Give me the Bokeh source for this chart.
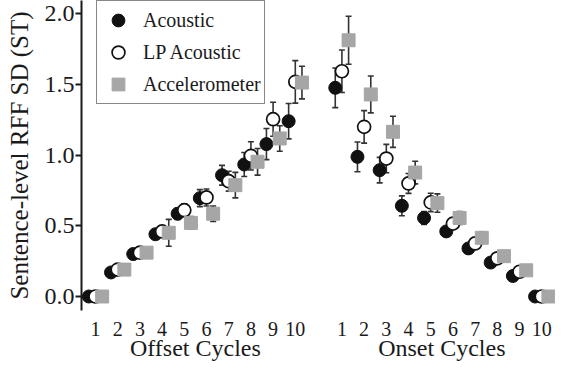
from bokeh.plotting import figure
from bokeh.models import (LinearAxis, FixedTicker, Whisker, ColumnDataSource, Legend,
                          LegendItem, TeeHead, Range1d, NumeralTickFormatter)
from bokeh.embed import file_html
from bokeh.resources import INLINE

# ---- data ----
cycles = [1, 2, 3, 4, 5, 6, 7, 8, 9, 10]
cycle_labels = ["1", "2", "3", "4", "5", "6", "7", "8", "9", "10"]
group_labels = ["Offset Cycles", "Onset Cycles"]
series_names = ["Acoustic", "LP Acoustic", "Accelerometer"]

offset_acoustic = [0.00, 0.17, 0.30, 0.44, 0.585, 0.695, 0.857, 0.933, 1.077, 1.239]
offset_acoustic_err = [0.01, 0.02, 0.02, 0.03, 0.04, 0.06, 0.07, 0.085, 0.11, 0.125]
offset_lp = [0.00, 0.19, 0.31, 0.46, 0.61, 0.70, 0.815, 0.994, 1.253, 1.517]
offset_lp_err = [0.01, 0.02, 0.03, 0.04, 0.045, 0.06, 0.07, 0.10, 0.12, 0.15]
offset_acc = [0.00, 0.19, 0.31, 0.45, 0.52, 0.585, 0.787, 0.952, 1.117, 1.512]
offset_acc_err = [0.01, 0.02, 0.02, 0.095, 0.045, 0.055, 0.09, 0.094, 0.09, 0.115]

onset_acoustic = [1.475, 0.987, 0.893, 0.641, 0.555, 0.46, 0.34, 0.24, 0.145, 0.00]
onset_acoustic_err = [0.14, 0.105, 0.09, 0.07, 0.045, 0.03, 0.02, 0.02, 0.02, 0.01]
onset_lp = [1.592, 1.199, 0.975, 0.799, 0.665, 0.515, 0.375, 0.27, 0.175, 0.00]
onset_lp_err = [0.15, 0.115, 0.10, 0.07, 0.065, 0.04, 0.03, 0.02, 0.02, 0.01]
onset_acc = [1.811, 1.428, 1.164, 0.876, 0.66, 0.555, 0.415, 0.285, 0.185, 0.00]
onset_acc_err = [0.17, 0.13, 0.11, 0.08, 0.065, 0.045, 0.04, 0.02, 0.02, 0.01]

y_ticks = [0.0, 0.5, 1.0, 1.5, 2.0]

# ---- layout helpers ----
ONSET_SHIFT = 11.1
DODGE = {"Acoustic": -0.3, "LP Acoustic": 0.0, "Accelerometer": 0.3}

base_x = [c for c in cycles] + [c + ONSET_SHIFT for c in cycles]


def make_source(name, off_v, off_e, on_v, on_e):
    ys = off_v + on_v
    es = off_e + on_e
    xs = [b + DODGE[name] for b in base_x]
    return ColumnDataSource(dict(x=xs, y=ys,
                                 upper=[y + e for y, e in zip(ys, es)],
                                 lower=[y - e for y, e in zip(ys, es)]))


src_ac = make_source("Acoustic", offset_acoustic, offset_acoustic_err, onset_acoustic, onset_acoustic_err)
src_lp = make_source("LP Acoustic", offset_lp, offset_lp_err, onset_lp, onset_lp_err)
src_acc = make_source("Accelerometer", offset_acc, offset_acc_err, onset_acc, onset_acc_err)

FONT = "Liberation Serif"
INK = "#1a1a1a"

p = figure(width=555, height=363, output_backend="svg", toolbar_location=None,
           x_range=Range1d(0.37, 21.72), y_range=Range1d(-0.099, 2.092),
           x_axis_type=None, y_axis_type=None,
           min_border_left=81, min_border_right=0, min_border_top=0, min_border_bottom=0)
p.outline_line_color = None
p.background_fill_color = "white"

# y axis
yaxis = LinearAxis(ticker=FixedTicker(ticks=y_ticks), formatter=NumeralTickFormatter(format="0.0"))
yaxis.axis_line_width = 2
yaxis.axis_line_color = INK
yaxis.major_tick_out = 6
yaxis.major_tick_in = 0
yaxis.major_tick_line_width = 2
yaxis.major_tick_line_color = INK
yaxis.minor_tick_line_color = None
yaxis.major_label_text_font = FONT
yaxis.major_label_text_font_size = "24px"
yaxis.major_label_text_color = INK
yaxis.major_label_standoff = 1
yaxis.axis_label = "Sentence-level RFF SD (ST)"
yaxis.axis_label_text_font = FONT
yaxis.axis_label_text_font_size = "25px"
yaxis.axis_label_text_font_style = "normal"
yaxis.axis_label_text_color = INK
yaxis.axis_label_standoff = 9
p.add_layout(yaxis, "left")

# x axis: cycle numbers
x_ticks = base_x
overrides = {t: lab for t, lab in zip(x_ticks, cycle_labels + cycle_labels)}
xaxis = LinearAxis(ticker=FixedTicker(ticks=x_ticks), major_label_overrides=overrides)
xaxis.axis_line_color = None
xaxis.major_tick_line_color = None
xaxis.minor_tick_line_color = None
xaxis.major_label_text_font = FONT
xaxis.major_label_text_font_size = "20px"
xaxis.major_label_text_color = INK
xaxis.major_label_standoff = 5
p.add_layout(xaxis, "below")

# x axis: group labels
g_ticks = [(cycles[0] + cycles[-1]) / 2, (cycles[0] + cycles[-1]) / 2 + ONSET_SHIFT]
gaxis = LinearAxis(ticker=FixedTicker(ticks=g_ticks),
                   major_label_overrides={t: lab for t, lab in zip(g_ticks, group_labels)})
gaxis.axis_line_color = None
gaxis.major_tick_line_color = None
gaxis.minor_tick_line_color = None
gaxis.major_label_text_font = FONT
gaxis.major_label_text_font_size = "24px"
gaxis.major_label_text_color = INK
gaxis.major_label_standoff = -10
p.add_layout(gaxis, "below")

ERR = "#333333"


def whisk(src):
    w = Whisker(base="x", upper="upper", lower="lower", source=src,
                line_color=ERR, line_width=1.6,
                upper_head=TeeHead(size=6, line_color=ERR, line_width=1.6),
                lower_head=TeeHead(size=6, line_color=ERR, line_width=1.6))
    p.add_layout(w)


whisk(src_ac)
whisk(src_lp)
whisk(src_acc)

r_ac = p.scatter("x", "y", source=src_ac, marker="circle", size=13,
                 fill_color="#111111", line_color="#111111")
r_lp = p.scatter("x", "y", source=src_lp, marker="circle", size=13,
                 fill_color="white", line_color="#111111", line_width=1.7)
r_acc = p.scatter("x", "y", source=src_acc, marker="square", size=13,
                  fill_color="#a6a6a6", line_color="#a6a6a6")

legend = Legend(items=[LegendItem(label=series_names[0], renderers=[r_ac]),
                       LegendItem(label=series_names[1], renderers=[r_lp]),
                       LegendItem(label=series_names[2], renderers=[r_acc])],
                location=(15, 206))
legend.label_text_font = FONT
legend.label_text_font_size = "20px"
legend.label_text_color = INK
legend.border_line_color = "#111111"
legend.border_line_width = 1.6
legend.background_fill_color = "white"
legend.background_fill_alpha = 1.0
legend.padding = 3
legend.spacing = -4
legend.glyph_width = 36
legend.glyph_height = 32
legend.label_standoff = 7
legend.label_height = 20
legend.margin = 0
p.add_layout(legend)

open("out.html", "w").write(file_html(p, INLINE))
